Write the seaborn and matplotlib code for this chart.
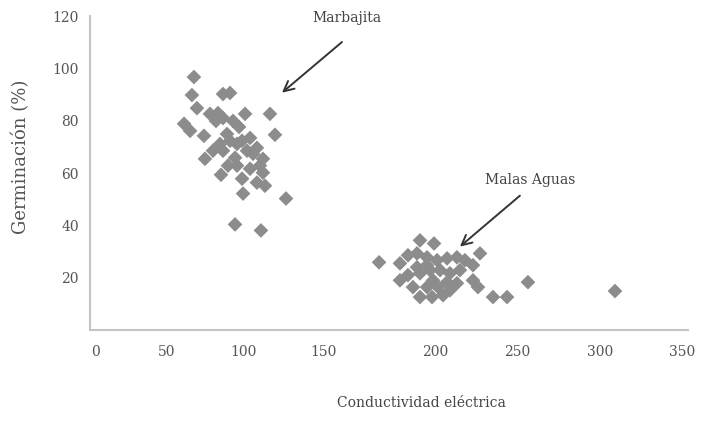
import pandas as pd
import matplotlib.pyplot as plt
import seaborn as sns

# Marbajita (left cluster) - conductividad vs germinacion
marb_ce = [59.2, 58.0, 61.0, 53.3, 56.9, 65.2, 65.8, 68.8, 73.6, 76.6, 72.4, 76.6,
           80.8, 89.8, 104.7, 107.7, 82.6, 86.2, 79.0, 74.8, 70.6, 80.8, 85.0, 92.8,
           96.9, 91.0, 88.0, 94.6, 100.5, 98.7, 79.6, 85.0, 92.8, 75.4, 88.0, 96.9,
           101.7, 100.5, 88.6, 114.3, 83.8, 99.3, 76.6, 83.8]
marb_germ = [96.8, 89.9, 84.9, 78.9, 76.2, 74.3, 65.5, 82.7, 83.0, 81.1, 80.0, 90.3,
             90.7, 82.7, 82.7, 74.7, 80.0, 77.7, 75.0, 71.2, 68.6, 72.4, 71.2, 73.5,
             69.7, 68.6, 72.4, 67.4, 65.5, 62.9, 62.9, 62.9, 61.7, 59.4, 57.9, 56.4,
             55.2, 60.2, 52.2, 50.3, 40.4, 38.1, 68.6, 65.9]

# Malas Aguas (right cluster)
malas_ce = [170.0, 194.5, 202.9, 230.4, 182.5, 187.3, 192.7, 198.7, 204.7, 210.7,
            216.6, 221.4, 226.2, 182.5, 187.3, 194.5, 200.5, 206.5, 212.4, 218.4,
            192.7, 198.7, 202.3, 210.7, 216.6, 226.2, 229.2, 194.5, 201.7, 208.3,
            212.4, 238.2, 246.6, 259.1, 311.2, 205.3, 198.7, 190.3]
malas_germ = [25.9, 34.3, 33.1, 29.3, 25.5, 28.6, 29.3, 27.8, 26.7, 27.4,
              27.8, 26.7, 24.8, 19.0, 21.0, 21.7, 22.9, 22.9, 21.7, 22.9,
              24.0, 24.8, 19.0, 18.3, 17.9, 19.0, 16.4, 12.6, 12.6, 13.3,
              15.2, 12.6, 12.6, 18.3, 14.9, 16.4, 16.4, 16.4]

xtick_labels = ['0', '50', '100', '150', '200', '250', '300', '350']
ytick_labels = ['20', '40', '60', '80', '100', '120']

df = pd.DataFrame({
    'ce': marb_ce + malas_ce,
    'germ': marb_germ + malas_germ,
})

sns.set_style('white')
plt.rcParams['font.family'] = ['DejaVu Serif']

fig = plt.figure(figsize=(7.12, 4.21), dpi=100)
ax = fig.add_axes([0.1264, 0.2162, 0.8399, 0.7448])

sns.scatterplot(data=df, x='ce', y='germ', marker='D', s=56, color='#8c8c8c',
                edgecolor='none', ax=ax, legend=False)

ax.set_xlim(-3.0, 354.9)
ax.set_ylim(0, 120)

# tick label positions as they sit in the original figure
xtick_pos = [0, 43.1, 88.6, 137.0, 203.5, 252.5, 302.2, 351.3]
ax.set_xticks(xtick_pos)
ax.set_xticklabels(xtick_labels)
ax.set_yticks([int(v) for v in ytick_labels])
ax.set_yticklabels(ytick_labels)
ax.tick_params(axis='both', length=0, labelsize=10, labelcolor='#555555')
ax.tick_params(axis='x', pad=11)
ax.tick_params(axis='y', pad=8)

for s in ['top', 'right']:
    ax.spines[s].set_visible(False)
for s in ['left', 'bottom']:
    ax.spines[s].set_color('#c4c4c4')
    ax.spines[s].set_linewidth(1.5)

ax.set_ylabel('Germinación (%)', fontsize=13, color='#555555')
ax.yaxis.set_label_coords(-0.100, 0.553)
ax.set_xlabel('Conductividad eléctrica', fontsize=10, color='#444444')
ax.xaxis.set_label_coords(0.555, -0.21)

arrow = dict(arrowstyle='->', color='#333333', lw=1.4, mutation_scale=18,
             shrinkA=0, shrinkB=0)
ax.annotate('', xy=(111.9, 90.8), xytext=(147.8, 110.2), arrowprops=arrow,
            annotation_clip=False)
ax.text(150.8, 119.4, 'Marbajita', fontsize=10, color='#444444',
        ha='center', va='center', clip_on=False)
ax.annotate('', xy=(218.4, 31.9), xytext=(254.3, 51.4), arrowprops=arrow,
            annotation_clip=False)
ax.text(260.3, 57.5, 'Malas Aguas', fontsize=10, color='#444444',
        ha='center', va='center', clip_on=False)

plt.savefig('out.png', dpi=100)
